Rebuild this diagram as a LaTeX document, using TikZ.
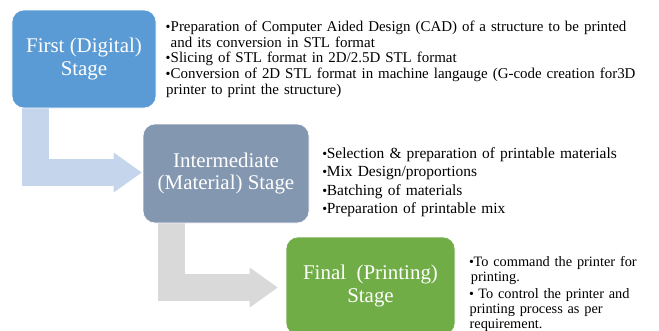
\documentclass[tikz,border=0pt]{standalone}
\usepackage{fontspec}
\setmainfont{Liberation Serif}
\usepackage{xcolor}
\usetikzlibrary{positioning,arrows.meta,backgrounds}
\definecolor{digiblue}{RGB}{91,155,213}
\definecolor{matgrey}{RGB}{132,151,176}
\definecolor{printgreen}{RGB}{112,173,71}
\definecolor{paleblue}{RGB}{197,214,236}
\definecolor{palegrey}{RGB}{217,217,217}
\newlength{\bulw}\newlength{\hangw}
\newcommand{\itm}{\par\hangindent=\hangw\hangafter=1\noindent\makebox[\bulw][l]{\hspace{-.5bp}\fontsize{14}{14}\selectfont\textbullet}}
\tikzset{
  stage/.style ={rounded corners=12bp,draw=white,line width=.6bp,text=white,align=center,font=\fontsize{21}{23}\selectfont,inner sep=0pt},
  notes/.style ={anchor=north west,align=left,text width=#1,inner sep=0pt},
  shaft/.style ={line width=27bp,line join=miter},
  head/.style  ={line width=27bp,-{Triangle[length=28bp,width=40bp,line width=0pt]}},
}
\begin{document}
\begin{tikzpicture}[x=1bp,y=-1bp]
\useasboundingbox (0,0) rectangle (659,330);
\clip (0,0) rectangle (659,330);
% the three stages
\node[stage,fill=digiblue,minimum width=144bp,minimum height=98bp] (first) at (84,59) {First (Digital)\\Stage};
\node[stage,fill=matgrey,minimum width=166bp,minimum height=99bp] (second) at (226,173.5) {Intermediate\\(Material) Stage};
\node[stage,fill=printgreen,minimum width=169bp,minimum height=98bp] (final) at (370.5,286) {Final~~(Printing)\\Stage};
% bent arrows behind
\begin{scope}[on background layer]
\draw[shaft,paleblue] ([xshift=23.5bp,yshift=3bp]first.south west) |- ([xshift=-27bp,yshift=1bp]second.west);
\draw[head,paleblue] ([xshift=-40bp,yshift=1bp]second.west) -- ([xshift=-1bp,yshift=1bp]second.west);
\draw[shaft,palegrey] ([xshift=28.5bp,yshift=3bp]second.south west) |- ([xshift=-35bp,yshift=-1.5bp]final.west);
\draw[head,palegrey] ([xshift=-48bp,yshift=-1.5bp]final.west) -- ([xshift=-8bp,yshift=-1.5bp]final.west);
\end{scope}
% what happens in each stage
\node[notes=490bp,font=\fontsize{15}{15.8}\selectfont,execute at begin node={\bulw=4.5bp\hangw=4.5bp}] (firstnotes) at (166,15.4) {%
\itm Preparation of Computer Aided Design (CAD) of a structure to be printed\newline and its conversion in STL format
\itm Slicing of STL format in 2D/2.5D STL format
\itm Conversion of 2D STL format in machine langauge (G-code creation for3D\newline printer to print the structure)};
\node[notes=330bp,font=\fontsize{15.5}{18.4}\selectfont,execute at begin node={\bulw=4bp\hangw=4bp}] (secondnotes) at (322.7,140.1) {%
\itm Selection \& preparation of printable materials
\itm Mix Design/proportions
\itm Batching of materials
\itm Preparation of printable mix};
\node[notes=190bp,font=\fontsize{14.4}{15.2}\selectfont,execute at begin node={\bulw=4bp\hangw=1.3bp\parskip=1.5bp}] (finalnotes) at (469.4,249.5) {%
\itm To command the printer for\newline printing.
\itm\ To control the printer and\newline printing process as per\newline requirement.};
\end{tikzpicture}
\end{document}
